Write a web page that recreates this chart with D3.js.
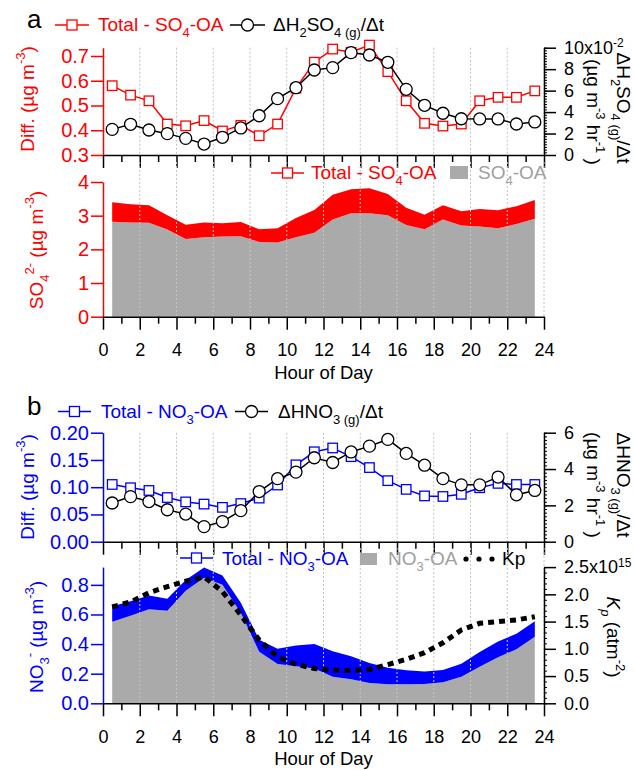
<!DOCTYPE html>
<html><head><meta charset="utf-8">
<script src="https://cdn.jsdelivr.net/npm/d3@7"></script>
<style>
body{margin:0;background:#fff}
text{font-family:"Liberation Sans",Arial,Helvetica,sans-serif}
</style>
</head><body>
<svg id="c" width="634" height="770"></svg>
<script>
// ---------------- DATA ----------------
const hours = d3.range(24).map(i => i + 0.5);
const xTickLabels = [0,2,4,6,8,10,12,14,16,18,20,22,24];
// panel a
const so4Diff   = [0.58,0.542,0.519,0.425,0.418,0.439,0.397,0.42,0.378,0.425,0.57,0.675,0.728,0.715,0.744,0.637,0.519,0.428,0.417,0.425,0.519,0.533,0.533,0.559];
const h2so4Rate = [2.39,2.86,2.33,1.99,1.55,1.02,1.65,2.52,3.66,5.25,6.27,7.92,8.14,9.54,9.32,8.64,6.12,4.63,3.89,3.38,3.36,3.36,2.89,3.08]; // x10^-2
const so4OA     = [2.82,2.80,2.79,2.59,2.31,2.36,2.38,2.39,2.22,2.20,2.36,2.49,2.89,3.07,3.07,3.01,2.72,2.60,2.89,2.71,2.68,2.63,2.75,2.91];
const diffATicks = [0.3,0.4,0.5,0.6,0.7];
const rateATicks = [0,2,4,6,8,10];
const so4Ticks   = [0,1,2,3,4];
// panel b
const no3Diff   = [0.105,0.099,0.094,0.081,0.073,0.069,0.063,0.070,0.080,0.104,0.141,0.165,0.172,0.156,0.136,0.112,0.096,0.084,0.083,0.087,0.099,0.107,0.105,0.105];
const hno3Rate  = [2.13,2.48,2.21,1.76,1.52,0.83,1.11,1.71,2.76,3.47,3.83,4.62,4.36,4.94,5.26,5.63,4.86,4.21,3.47,3.13,3.13,3.56,2.58,2.82];
const no3OA     = [0.551,0.591,0.635,0.626,0.76,0.848,0.80,0.61,0.349,0.265,0.25,0.235,0.18,0.162,0.137,0.128,0.128,0.13,0.142,0.18,0.247,0.311,0.365,0.45];
const kp        = [1.77,1.86,2.03,2.14,2.24,2.32,2.05,1.62,1.16,0.855,0.716,0.64,0.61,0.60,0.62,0.71,0.807,0.929,1.11,1.345,1.468,1.50,1.53,1.59]; // x10^15
const diffBTicks = [0,0.05,0.10,0.15,0.20];
const rateBTicks = [0,2,4,6];
const no3Ticks   = [0,0.2,0.4,0.6,0.8];
const kpTicks    = [0,0.5,1.0,1.5,2.0,2.5];

// ---------------- SETUP ----------------
const RED = "#ff0000", BLUE = "#0000ff", GRAY = "#aaaaaa", GRAYTXT = "#a0a0a0";
const FS = 18, FSL = 20, FSLEG = 19, FST = 19;
const svg = d3.select("#c");
const X0 = 103, X1 = 544;
const x = d3.scaleLinear().domain([0, 24]).range([X0, X1]);

function rich(t, parts, fs) {
  let cur = 0;
  parts.forEach(p => {
    const s = p[0], type = p[1] || "n";
    const target = type.includes("sub") ? fs * 0.3 : type.includes("sup") ? -fs * 0.45 : 0;
    const ts = t.append("tspan").text(s).attr("dy", target - cur);
    if (type.includes("sub") || type.includes("sup")) ts.attr("font-size", Math.round(fs * 0.68));
    if (type.includes("it")) ts.attr("font-style", "italic");
    cur = target;
  });
  return t;
}

function grid(top, bottom) {
  svg.append("g").selectAll("line").data(d3.range(2, 25, 2)).join("line")
    .attr("x1", d => x(d)).attr("x2", d => x(d))
    .attr("y1", top).attr("y2", bottom)
    .attr("stroke", "#c4c4c4").attr("stroke-width", 1).attr("stroke-dasharray", "2,2");
}

function xAxis(yPos, withLabels) {
  const gMin = svg.append("g").attr("transform", `translate(0,${yPos})`)
    .call(d3.axisBottom(x).tickValues(d3.range(1, 24, 2)).tickSize(7).tickSizeOuter(0).tickFormat(""));
  gMin.select(".domain").remove();
  gMin.selectAll(".tick line").attr("stroke", "#000").attr("stroke-width", 1.5);
  const g = svg.append("g").attr("transform", `translate(0,${yPos})`)
    .call(d3.axisBottom(x).tickValues(xTickLabels).tickSize(13).tickSizeOuter(0).tickPadding(14)
      .tickFormat(withLabels ? d3.format("d") : ""));
  g.select(".domain").attr("stroke", "#000").attr("stroke-width", 1.5);
  g.selectAll(".tick line").attr("stroke", "#000").attr("stroke-width", 1.5);
  g.selectAll("text").attr("fill", "#000").attr("font-size", FS).attr("font-family", "Liberation Sans, Arial, sans-serif");
  if (withLabels) {
    svg.append("text").attr("x", (X0 + X1) / 2).attr("y", yPos + 62).attr("text-anchor", "middle")
      .attr("font-size", 18.5).text("Hour of Day");
  }
}

function leftAxis(scale, ticks, color, fmt) {
  const g = svg.append("g").attr("transform", `translate(${X0},0)`)
    .call(d3.axisLeft(scale).tickValues(ticks).tickSize(12).tickSizeOuter(0).tickPadding(2).tickFormat(fmt));
  g.select(".domain").attr("stroke", color).attr("stroke-width", 1.5);
  g.selectAll(".tick line").attr("stroke", color).attr("stroke-width", 1.5);
  g.selectAll("text").attr("fill", color).attr("font-size", FSL).attr("font-family", "Liberation Sans, Arial, sans-serif");
  return g;
}

function rightAxis(scale, ticks, minorStep, fmt, topExp) {
  const dom = scale.domain();
  const tiny = d3.range(dom[0], dom[1] + 1e-9, minorStep);
  const gT = svg.append("g").attr("transform", `translate(${X1},0)`)
    .call(d3.axisRight(scale).tickValues(tiny).tickSize(3).tickSizeOuter(0).tickFormat(""));
  gT.select(".domain").remove();
  gT.selectAll(".tick line").attr("stroke", "#000").attr("stroke-width", 1);
  const g = svg.append("g").attr("transform", `translate(${X1},0)`)
    .call(d3.axisRight(scale).tickValues(ticks).tickSize(12).tickSizeOuter(0).tickPadding(8).tickFormat(fmt));
  g.select(".domain").attr("stroke", "#000").attr("stroke-width", 1.5);
  g.selectAll(".tick line").attr("stroke", "#000").attr("stroke-width", 1.5);
  g.selectAll("text").attr("fill", "#000").attr("font-size", FS).attr("font-family", "Liberation Sans, Arial, sans-serif");
  if (topExp) {
    const last = g.selectAll(".tick text").filter(d => d === ticks[ticks.length - 1]);
    last.text(null);
    last.append("tspan").text(topExp[0]);
    last.append("tspan").text(topExp[1]).attr("font-size", 12).attr("dy", "-0.55em");
  }
  return g;
}

function series(yS, vals, color, marker) {
  const line = d3.line().x((d, i) => x(hours[i])).y(d => yS(d));
  svg.append("path").datum(vals).attr("d", line).attr("fill", "none")
    .attr("stroke", color).attr("stroke-width", 1.5);
  const g = svg.append("g");
  if (marker === "square") {
    g.selectAll("rect").data(vals).join("rect")
      .attr("x", (d, i) => x(hours[i]) - 4.75).attr("y", d => yS(d) - 4.75)
      .attr("width", 9.5).attr("height", 9.5)
      .attr("fill", "#fff").attr("stroke", color).attr("stroke-width", 1.3);
  } else {
    g.selectAll("circle").data(vals).join("circle")
      .attr("cx", (d, i) => x(hours[i])).attr("cy", d => yS(d)).attr("r", 6)
      .attr("fill", "#fff").attr("stroke", color).attr("stroke-width", 1.3);
  }
}

function legendItem(x1, x2, y, color, marker) {
  svg.append("line").attr("x1", x1).attr("x2", x2).attr("y1", y).attr("y2", y)
    .attr("stroke", color).attr("stroke-width", 1.5);
  const cx = (x1 + x2) / 2;
  if (marker === "square") {
    svg.append("rect").attr("x", cx - 5).attr("y", y - 5).attr("width", 10).attr("height", 10)
      .attr("fill", "#fff").attr("stroke", color).attr("stroke-width", 1.3);
  } else {
    svg.append("circle").attr("cx", cx).attr("cy", y).attr("r", 6)
      .attr("fill", "#fff").attr("stroke", color).attr("stroke-width", 1.3);
  }
}

function label(xp, yp, parts, color, opts = {}) {
  const fs = opts.fs || FSLEG;
  const t = svg.append("text").attr("font-size", fs).attr("fill", color);
  if (opts.rot) {
    t.attr("transform", `translate(${xp},${yp}) rotate(${opts.rot})`).attr("text-anchor", "middle");
  } else {
    t.attr("x", xp).attr("y", yp);
    if (opts.anchor) t.attr("text-anchor", opts.anchor);
  }
  return rich(t, parts, fs);
}

// ================= PANEL a (top: diff) =================
const yA1 = d3.scaleLinear().domain([0.3, 0.7335]).range([155, 47.7]);
const yA1r = d3.scaleLinear().domain([0, 10]).range([155, 47.7]);
grid(47.7, 155);
leftAxis(yA1, diffATicks, RED, d3.format(".1f"));
rightAxis(yA1r, rateATicks, 0.25, d3.format("d"), ["10x10", "-2"]);
xAxis(155, false);
series(yA1, so4Diff, RED, "square");
series(yA1r, h2so4Rate, "#000", "circle");

svg.append("text").attr("x", 27).attr("y", 28).attr("font-size", 26).text("a");
legendItem(55, 89, 25, RED, "square");
label(98, 31, [["Total - SO"], ["4", "sub"], ["-OA"]], RED);
legendItem(230, 265, 25, "#000", "circle");
label(273, 31, [["\u0394H"], ["2", "sub"], ["SO"], ["4 (g)", "sub"], ["/\u0394t"]], "#000");

label(34, 99, [["Diff. (\u00b5g m"], ["-3", "sup"], [")"]], RED, { rot: -90, fs: FST });
label(617, 108, [["\u0394H"], ["2", "sub"], ["SO"], ["4 (g)", "sub"], ["/\u0394t"]], "#000", { rot: 90, fs: FST });
label(587, 112, [["(\u00b5g m"], ["-3", "sup"], [" hr"], ["-1", "sup"], [" )"]], "#000", { rot: 90, fs: FST });

// ================= PANEL a (bottom: SO4) =================
const yA2 = d3.scaleLinear().domain([0, 4]).range([316.7, 182]);
const grayArea = d3.area().x((d, i) => x(hours[i])).y0(yA2(0)).y1(d => yA2(d));
svg.append("path").datum(so4OA).attr("d", grayArea).attr("fill", GRAY);
const redArea = d3.area().x((d, i) => x(hours[i])).y0((d, i) => yA2(so4OA[i])).y1((d, i) => yA2(so4OA[i] + d));
svg.append("path").datum(so4Diff).attr("d", redArea).attr("fill", RED);
grid(162, 316.7);
leftAxis(yA2, so4Ticks, RED, d3.format("d"));
xAxis(316.7, true);

legendItem(271, 304, 173, RED, "square");
label(311, 179, [["Total - SO"], ["4", "sub"], ["-OA"]], RED);
svg.append("rect").attr("x", 450).attr("y", 166).attr("width", 18).attr("height", 13).attr("fill", GRAY);
label(478, 179, [["SO"], ["4", "sub"], ["-OA"]], GRAYTXT);

label(43, 250, [["SO"], ["4", "sub"], ["2-", "sup"], [" (\u00b5g m"], ["-3", "sup"], [")"]], RED, { rot: -90, fs: FST });

// ================= PANEL b (top: diff) =================
const yB1 = d3.scaleLinear().domain([0, 0.2]).range([541.7, 432.7]);
const yB1r = d3.scaleLinear().domain([0, 6]).range([541.7, 432.7]);
grid(432.7, 541.7);
leftAxis(yB1, diffBTicks, BLUE, d3.format(".2f"));
rightAxis(yB1r, rateBTicks, 0.2, d3.format("d"));
xAxis(541.7, false);
series(yB1, no3Diff, BLUE, "square");
series(yB1r, hno3Rate, "#000", "circle");

svg.append("text").attr("x", 27).attr("y", 415).attr("font-size", 26).text("b");
legendItem(58, 91, 411.5, BLUE, "square");
label(101, 418, [["Total - NO"], ["3", "sub"], ["-OA"]], BLUE);
legendItem(235, 268, 411.5, "#000", "circle");
label(278, 418, [["\u0394HNO"], ["3 (g)", "sub"], ["/\u0394t"]], "#000");

label(34, 487, [["Diff. (\u00b5g m"], ["-3", "sup"], [")"]], BLUE, { rot: -90, fs: FST });
label(617, 485, [["\u0394HNO"], ["3 (g)", "sub"], ["/\u0394t"]], "#000", { rot: 90, fs: FST });
label(587, 485, [["(\u00b5g m"], ["-3", "sup"], [" hr"], ["-1", "sup"], [" )"]], "#000", { rot: 90, fs: FST });

// ================= PANEL b (bottom: NO3) =================
const yB2 = d3.scaleLinear().domain([0, 0.92]).range([703.3, 567.1]);
const yB2r = d3.scaleLinear().domain([0, 2.5]).range([703.3, 567.1]);
const grayAreaB = d3.area().x((d, i) => x(hours[i])).y0(yB2(0)).y1(d => yB2(d));
svg.append("path").datum(no3OA).attr("d", grayAreaB).attr("fill", GRAY);
const blueArea = d3.area().x((d, i) => x(hours[i])).y0((d, i) => yB2(no3OA[i])).y1((d, i) => yB2(no3OA[i] + d));
svg.append("path").datum(no3Diff).attr("d", blueArea).attr("fill", BLUE);
grid(548, 703.3);
svg.append("path").datum(kp)
  .attr("d", d3.line().x((d, i) => x(hours[i])).y(d => yB2r(d)))
  .attr("fill", "none").attr("stroke", "#000").attr("stroke-width", 5).attr("stroke-dasharray", "6,5");
leftAxis(yB2, no3Ticks, BLUE, d3.format(".1f"));
rightAxis(yB2r, kpTicks, 0.1, d3.format(".1f"), ["2.5x10", "15"]);
xAxis(703.3, true);

legendItem(180, 213, 558, BLUE, "square");
label(222, 565, [["Total - NO"], ["3", "sub"], ["-OA"]], BLUE);
svg.append("rect").attr("x", 360).attr("y", 553).attr("width", 17).attr("height", 12).attr("fill", GRAY);
label(388, 565, [["NO"], ["3", "sub"], ["-OA"]], GRAYTXT);
[466, 479, 492].forEach(cx => svg.append("circle").attr("cx", cx).attr("cy", 559).attr("r", 2.6).attr("fill", "#000"));
label(502, 565, [["Kp"]], "#000");

label(43, 637, [["NO"], ["3", "sub"], ["-", "sup"], [" (\u00b5g m"], ["-3", "sup"], [")"]], BLUE, { rot: -90, fs: FST });
label(607, 637, [["K", "it"], ["p", "itsub"], [" (atm"], ["-2", "sup"], [")"]], "#000", { rot: 90, fs: FST });
</script>
</body></html>
